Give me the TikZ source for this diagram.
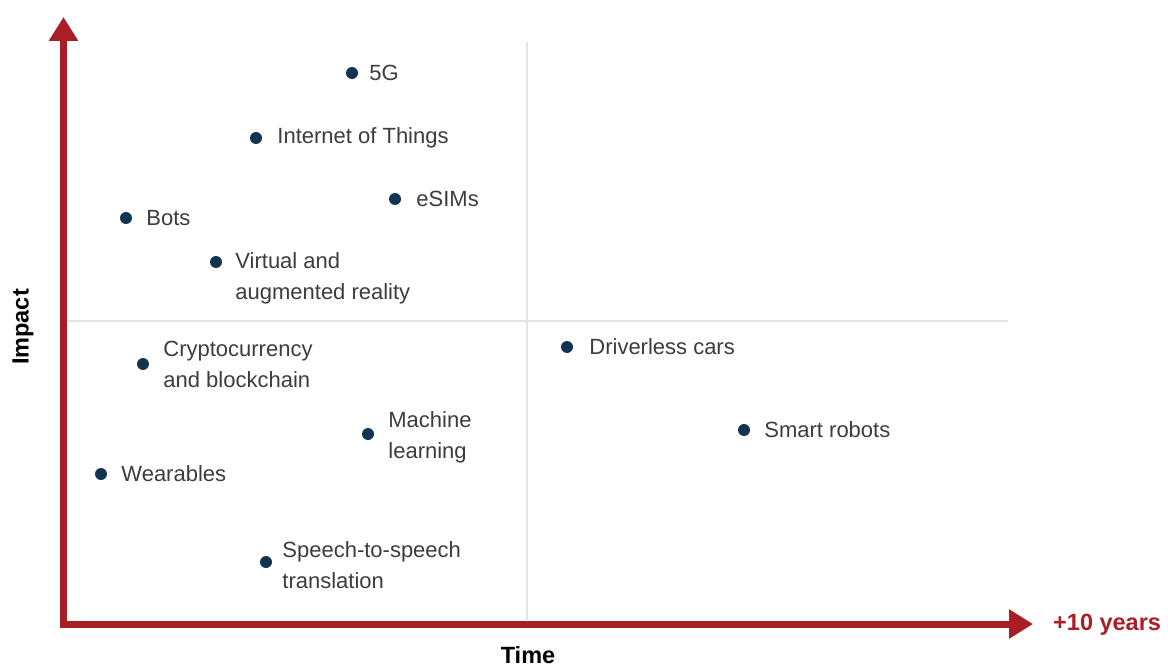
\documentclass[tikz,border=0pt]{standalone}
\usepackage{fontspec}
\setmainfont{Liberation Sans}
\usetikzlibrary{positioning,arrows.meta}
\definecolor{axisred}{RGB}{170,30,38}
\definecolor{dotblue}{RGB}{18,52,80}
\definecolor{txtgray}{RGB}{60,60,60}
\definecolor{gridgray}{RGB}{228,228,228}
\tikzset{x=1pt, y=-1pt,
  axis/.style={axisred, line width=7pt, miter limit=10,
    {Triangle[width=28pt,length=24pt]}-{Triangle[width=28pt,length=24pt]}},
  grid/.style={gridgray, line width=1.5pt},
  dot/.style={circle, fill=dotblue, inner sep=0pt, minimum size=12pt},
  lbl/.style={text=txtgray, inner sep=0pt, align=left,
    font=\fontsize{22}{31}\selectfont},
  ttl/.style={inner sep=0pt, font=\fontsize{23.5}{26}\selectfont\bfseries}}

\begin{document}
\begin{tikzpicture}
  \useasboundingbox (0,0) rectangle (1168,666);

  \coordinate (Y) at (63.5,17);
  \coordinate (O) at (63.5,624);
  \coordinate (X) at (1033,624);

  \draw[grid] (527,42) -- (527,620);
  \draw[grid] (67,321) -- (1008,321);
  \draw[axis] (Y) -- (O) -- (X);

  \node (I)[ttl, rotate=90] at (23,327) {Impact};
  \node (T)[ttl, anchor=north] at (528,646) {Time};
  \node (P)[ttl, text=axisred, anchor=west] at (1053,625) {+10 years};

  \node (G)[dot] at (352,73) {};
  \node (Gl)[lbl, right=11pt of G] {5G};
  \node (IoT)[dot] at (256,138) {};
  \node (IoTl)[lbl, right=15pt of IoT] {Internet of Things};
  \node (E)[dot] at (395,199) {};
  \node (El)[lbl, right=15pt of E] {eSIMs};
  \node (B)[dot] at (126,218) {};
  \node (Bl)[lbl, right=14pt of B] {Bots};
  \node (V)[dot] at (216,262) {};
  \node (Vl)[lbl, right=13pt of V, yshift=-16pt] {Virtual and\\augmented reality};

  % lower half
  \node (C)[dot] at (143,364) {};
  \node (Cl)[lbl, right=14pt of C] {Cryptocurrency\\and blockchain};
  \node (M)[dot] at (368,434) {};
  \node (Ml)[lbl, right=14pt of M, yshift=-3pt] {Machine\\learning};
  \node (W)[dot] at (101,474) {};
  \node (Wl)[lbl, right=14pt of W] {Wearables};
  \node (S)[dot] at (266,562) {};
  \node (Sl)[lbl, right=10pt of S, yshift=-3pt] {Speech-to-speech\\translation};
  \node (D)[dot] at (567,347) {};
  \node (Dl)[lbl, right=16pt of D] {Driverless cars};
  \node (R)[dot] at (744,430) {};
  \node (Rl)[lbl, right=14pt of R] {Smart robots};
\end{tikzpicture}
\end{document}
